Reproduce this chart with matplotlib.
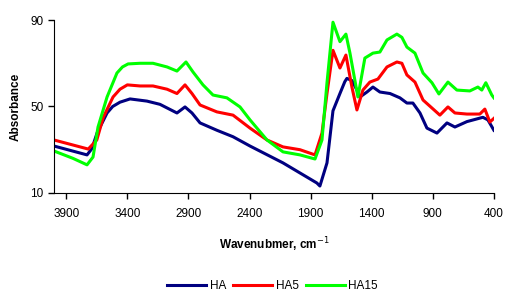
import numpy as np
import matplotlib.pyplot as plt

plt.rcParams['font.family'] = ['Liberation Sans', 'DejaVu Sans']

# FTIR spectra
wn_ha = [4000, 3730, 3690, 3648, 3566, 3520, 3460, 3378, 3240, 3133, 2994, 2928, 2871, 2805, 2667,
         2535, 2396, 2126, 1849, 1824, 1766, 1717, 1660, 1620, 1603, 1562, 1521, 1496, 1439,
         1390, 1333, 1250, 1169, 1112, 1063, 1005, 948, 866, 784, 719, 621, 490, 449, 400]
ha = [31.7, 27.6, 30.5, 37.7, 47.0, 50.0, 52.0, 53.5, 52.5, 51.0, 47.0, 49.8, 47.0, 42.4, 39.0,
      36.0, 31.7, 23.9, 14.6, 13.2, 23.9, 48.0, 56.0, 61.5, 63.0, 62.0, 57.6, 54.4, 56.7,
      59.0, 56.7, 56.0, 54.0, 51.6, 51.6, 47.0, 40.0, 37.7, 42.4, 40.5, 43.0, 45.0, 43.8, 39.0]

wn_ha5 = [4000, 3720, 3650, 3597, 3517, 3460, 3400, 3296, 3190, 3075, 2994, 2928, 2871, 2805,
          2667, 2535, 2396, 2257, 2126, 1987, 1864, 1807, 1766, 1717, 1660, 1611, 1562,
          1521, 1472, 1415, 1349, 1275, 1194, 1153, 1112, 1046, 980, 907, 842, 776, 719,
          621, 515, 474, 433, 400]
ha5 = [34.5, 30.3, 34.5, 45.0, 54.4, 58.0, 60.0, 59.5, 59.5, 58.0, 56.0, 60.0, 56.0, 50.7,
       47.5, 46.0, 40.0, 34.5, 31.3, 30.0, 27.6, 37.7, 56.0, 76.0, 67.8, 73.8, 59.0,
       48.4, 57.6, 61.3, 62.7, 68.3, 70.6, 70.0, 64.6, 61.3, 53.0, 49.3, 46.0, 49.8, 47.0,
       46.5, 46.5, 48.8, 42.8, 44.5]

wn_ha15 = [4000, 3845, 3730, 3681, 3640, 3566, 3485, 3440, 3394, 3296, 3190, 3075, 2994, 2920,
           2863, 2781, 2699, 2585, 2478, 2396, 2257, 2126, 1987, 1864, 1807, 1766, 1717,
           1660, 1611, 1578, 1513, 1456, 1390, 1333, 1275, 1194, 1153, 1112, 1046, 980,
           907, 850, 776, 703, 597, 531, 499, 466, 417, 400]
ha15 = [29.4, 26.0, 23.0, 26.6, 40.5, 54.4, 65.5, 68.3, 69.7, 70.0, 70.0, 68.3, 66.4, 70.6,
        66.0, 60.0, 55.3, 54.0, 49.8, 43.8, 34.5, 29.0, 27.6, 25.7, 34.5, 61.0, 89.0,
        80.0, 83.5, 74.7, 54.4, 72.4, 74.7, 75.2, 80.8, 83.5, 82.0, 77.5, 74.7, 65.5,
        61.0, 55.8, 61.3, 57.6, 57.2, 59.0, 57.6, 61.0, 55.3, 54.0]

xticks = [3900, 3400, 2900, 2400, 1900, 1400, 900, 400]
yticks = [10, 50, 90]

fig = plt.figure(figsize=(5.05, 2.95), dpi=100)
ax = fig.add_axes([0.107, 0.346, 0.871, 0.586])

ax.plot(wn_ha, ha, color='#000080', lw=2.2, label='HA')
ax.plot(wn_ha5, ha5, color='#ff0000', lw=2.2, label='HA5')
ax.plot(wn_ha15, ha15, color='#00ff00', lw=2.2, label='HA15')

ax.set_xlim(4000, 400)
ax.set_ylim(10, 90)
ax.set_xticks(xticks)
ax.set_yticks(yticks)
ax.tick_params(labelsize=8.5, length=4, width=1)
ax.tick_params(axis='x', pad=7)
for s in ['top', 'right']:
    ax.spines[s].set_visible(False)

ax.set_xlabel('Wavenubmer, cm$^{-1}$', fontsize=8.5, fontweight='bold', labelpad=11)
ax.set_ylabel('Absorbance', fontsize=8.5, fontweight='bold', labelpad=6)

fig.legend(loc='center', bbox_to_anchor=(0.54, 0.03), ncol=3, frameon=False,
           fontsize=8.5, handlelength=3.3, columnspacing=0.6, handletextpad=0.3)

plt.savefig('out.png', dpi=100)
